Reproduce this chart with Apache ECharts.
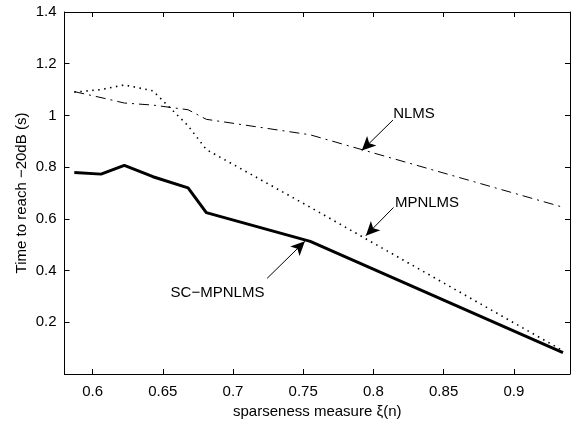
<!DOCTYPE html>
<html>
<head>
<meta charset="utf-8">
<script src="https://cdn.jsdelivr.net/npm/echarts@6/dist/echarts.min.js"></script>
<style>
html,body{margin:0;padding:0;background:#fff;}
#chart{width:573px;height:424px;}
</style>
</head>
<body>
<div id="chart"></div>
<script>
// Data
const xValues = [0.587, 0.606, 0.6226, 0.643, 0.668, 0.681, 0.755, 0.935];
const scMpnlms = [0.779, 0.773, 0.807, 0.763, 0.720, 0.624, 0.513, 0.083];
const nlms     = [1.092, 1.069, 1.048, 1.040, 1.022, 0.985, 0.925, 0.645];
const mpnlms   = [1.090, 1.100, 1.118, 1.095, 0.960, 0.868, 0.645, 0.090];
const yTicks = [0.2, 0.4, 0.6, 0.8, 1, 1.2, 1.4];
const xTicks = [0.6, 0.65, 0.7, 0.75, 0.8, 0.85, 0.9];

// annotation arrows: [start, end] in data coords
const arrows = [
  { label: 'NLMS', from: [0.8139, 0.982], to: [0.7917, 0.864] },
  { label: 'MPNLMS', from: [0.8143, 0.644], to: [0.7946, 0.535] },
  { label: 'SC\u2212MPNLMS', from: [0.7243, 0.370], to: [0.7512, 0.513] }
];
const labelPos = [[414, 114], [427, 202.5], [217.5, 292.5]];

const FONT = '"Liberation Sans", Arial, Helvetica, sans-serif';
const zip = (xs, ys) => xs.map((x, i) => [x, ys[i]]);

const chart = echarts.init(document.getElementById('chart'), null, {renderer: 'canvas'});

const baseX = {
  type: 'value', min: 0.58, max: 0.94, splitNumber: 7,
  axisLine: {show: true, onZero: false, lineStyle: {color: '#000', width: 1}},
  axisTick: {show: true, inside: true, length: 5, lineStyle: {color: '#000'}},
  splitLine: {show: false}
};
const baseY = {
  type: 'value', min: 0, max: 1.4, interval: 0.2,
  axisLine: {show: true, onZero: false, lineStyle: {color: '#000', width: 1}},
  axisTick: {show: true, inside: true, length: 5, lineStyle: {color: '#000'}},
  splitLine: {show: false}
};

const option = {
  backgroundColor: '#fff',
  animation: false,
  grid: {left: 64.5, right: 3, top: 12, bottom: 44, containLabel: false},
  xAxis: [
    Object.assign({}, baseX, {
      position: 'bottom',
      name: 'sparseness measure \u03BE(n)', nameLocation: 'middle', nameGap: 30,
      nameTextStyle: {fontFamily: FONT, fontSize: 15, color: '#000'},
      axisLabel: {show: true, fontFamily: FONT, fontSize: 15, color: '#000', margin: 10,
        showMinLabel: false, showMaxLabel: false,
        formatter: v => xTicks.some(t => Math.abs(t - v) < 1e-6) ? String(+v.toFixed(2)) : ''}
    }),
    Object.assign({}, baseX, {position: 'top', axisLabel: {show: false}})
  ],
  yAxis: [
    Object.assign({}, baseY, {
      position: 'left',
      name: 'Time to reach \u221220dB (s)', nameLocation: 'middle', nameGap: 35,
      nameMoveOverlap: false,
      nameTextStyle: {fontFamily: FONT, fontSize: 15, color: '#000'},
      axisLabel: {show: true, fontFamily: FONT, fontSize: 15, color: '#000', margin: 8,
        formatter: v => yTicks.some(t => Math.abs(t - v) < 1e-6) ? String(+v.toFixed(1)) : ''}
    }),
    Object.assign({}, baseY, {position: 'right', axisLabel: {show: false}})
  ],
  series: [
    {
      name: 'NLMS', type: 'line', data: zip(xValues, nlms), symbol: 'none',
      lineStyle: {color: '#000', width: 1, type: [10, 5, 2, 5]}, z: 3
    },
    {
      name: 'MPNLMS', type: 'line', data: zip(xValues, mpnlms), symbol: 'none',
      lineStyle: {color: '#000', width: 1.6, type: [1.5, 4.5]}, z: 3
    },
    {
      name: 'SC-MPNLMS', type: 'line', data: zip(xValues, scMpnlms), symbol: 'none',
      lineStyle: {color: '#000', width: 3}, z: 4,
      markLine: {
        silent: true, animation: false,
        symbol: ['none', 'arrow'], symbolSize: [10, 14],
        lineStyle: {color: '#000', width: 1, type: 'solid'},
        label: {show: false},
        data: arrows.map(a => [{coord: a.from}, {coord: a.to}])
      }
    }
  ],
  graphic: arrows.map((a, i) => ({
    type: 'text', x: labelPos[i][0], y: labelPos[i][1],
    style: {text: a.label, fill: '#000', font: '15px ' + FONT, textAlign: 'center', textVerticalAlign: 'middle'}
  }))
};
chart.setOption(option);
</script>
</body>
</html>
